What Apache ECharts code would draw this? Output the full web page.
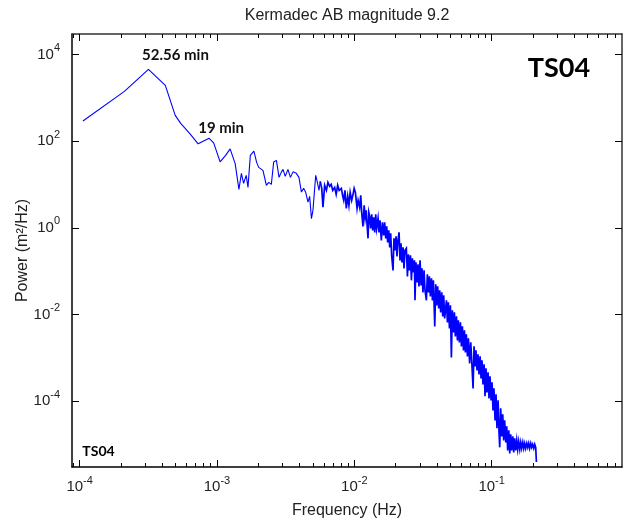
<!DOCTYPE html>
<html>
<head>
<meta charset="utf-8">
<script src="https://cdn.jsdelivr.net/npm/echarts@6/dist/echarts.min.js"></script>
<style>
  html, body { margin: 0; padding: 0; background: #fff; }
  #chart { width: 623px; height: 524px; }
</style>
</head>
<body>
<div id="chart"></div>
<script>
// ---- Chart text ----
const chartTitle = 'Kermadec AB magnitude 9.2';
const stationName = 'TS04';
const xAxisName = 'Frequency (Hz)';
const yAxisName = 'Power (m\u00B2/Hz)';

// ---- Axis ranges and tick positions (decimal exponents) ----
const freqRangeHz = [8.8e-5, 0.89];
const powerRange = [3e-6, 3e4];
const xTickExponents = [-4, -3, -2, -1];
const yTickExponents = [-4, -2, 0, 2, 4];

// ---- Periods of the annotated spectral peaks (minutes) ----
const annotatedPeriodsMin = [52.56, 19];

// ---- Power spectrum: log10 of frequency (Hz) and of power (m^2/Hz) ----
const log10FreqHz = [
  -3.976, -3.674, -3.4988, -3.376, -3.304, -3.264, -3.199, -3.137, -3.0569, -3.024,
  -2.977, -2.937, -2.904, -2.867, -2.840, -2.822, -2.806, -2.787, -2.774, -2.757,
  -2.731, -2.711, -2.696, -2.665, -2.640, -2.623, -2.604, -2.587, -2.567, -2.548,
  -2.532, -2.519, -2.503, -2.483, -2.465, -2.446, -2.422, -2.403, -2.385, -2.369,
  -2.354, -2.337, -2.325, -2.312, -2.301, -2.281, -2.272, -2.257, -2.248, -2.237,
  -2.228, -2.216, -2.203, -2.192, -2.179, -2.168, -2.157, -2.143, -2.132, -2.121,
  -2.110, -2.094, -2.084, -2.077, -2.068, -2.058, -2.048, -2.039, -2.030, -2.019,
  -2.009, -2.001, -1.992, -1.980, -1.972, -1.961, -1.953, -1.946, -1.937, -1.928,
  -1.921, -1.913, -1.906, -1.900, -1.894, -1.888, -1.881, -1.873, -1.866, -1.859,
  -1.851, -1.844, -1.837, -1.827, -1.820, -1.813, -1.803, -1.795, -1.786, -1.779,
  -1.771, -1.764, -1.757, -1.749, -1.742, -1.735, -1.728, -1.718, -1.711, -1.704,
  -1.696, -1.689, -1.682, -1.674, -1.667, -1.660, -1.653, -1.645, -1.638, -1.631,
  -1.621, -1.613, -1.606, -1.599, -1.591, -1.584, -1.577, -1.570, -1.562, -1.558,
  -1.551, -1.543, -1.536, -1.529, -1.521, -1.514, -1.507, -1.500, -1.492, -1.485,
  -1.475, -1.468, -1.460, -1.453, -1.446, -1.438, -1.431, -1.424, -1.414, -1.407,
  -1.400, -1.393, -1.385, -1.378, -1.371, -1.363, -1.356, -1.349, -1.342, -1.329,
  -1.322, -1.315, -1.307, -1.300, -1.293, -1.286, -1.278, -1.271, -1.264, -1.256,
  -1.249, -1.242, -1.235, -1.227, -1.220, -1.213, -1.205, -1.198, -1.191, -1.184,
  -1.176, -1.169, -1.160, -1.152, -1.145, -1.135, -1.128, -1.121, -1.114, -1.106,
  -1.099, -1.092, -1.084, -1.077, -1.070, -1.063, -1.055, -1.048, -1.041, -1.034,
  -1.026, -1.019, -1.012, -1.004, -0.997, -0.990, -0.983, -0.975, -0.968, -0.961,
  -0.953, -0.946, -0.941, -0.934, -0.926, -0.919, -0.912, -0.905, -0.897, -0.890,
  -0.883, -0.875, -0.868, -0.861, -0.854, -0.846, -0.839, -0.832, -0.824, -0.817,
  -0.810, -0.803, -0.795, -0.788, -0.781, -0.773, -0.766, -0.759, -0.752, -0.744,
  -0.737, -0.730, -0.723, -0.715, -0.708, -0.701, -0.693, -0.686, -0.679, -0.674
];
const log10Power = [
  2.467, 3.152, 3.661, 3.291, 2.598, 2.413, 2.182, 1.940, 2.067, 1.963,
  1.524, 1.674, 1.824, 1.478, 0.889, 1.259, 1.028, 1.212, 0.935, 1.674,
  1.774, 1.513, 1.397, 1.328, 0.982, 1.051, 1.005, 1.520, 1.559, 1.166,
  1.282, 1.351, 1.189, 1.351, 1.166, 1.293, 1.259, 1.166, 0.827, 0.912,
  0.820, 0.596, 0.727, 0.212, 0.404, 1.212, 1.097, 0.866, 1.074, 0.912,
  0.480, 0.982, 0.866, 1.051, 0.958, 1.005, 0.866, 0.935, 0.774, 0.982,
  0.866, 0.912, 0.727, 0.635, 0.866, 0.450, 0.727, 0.520, 0.820, 0.635,
  0.774, 0.912, 0.820, 0.450, 0.635, 0.473, 0.751, 0.358, 0.035, 0.520,
  0.219, 0.404, 0.035, -0.242, 0.358, 0.266, -0.012, 0.312, -0.058, 0.242,
  -0.104, 0.312, -0.012, 0.219, -0.104, 0.173, -0.289, 0.127, -0.173, 0.127,
  -0.242, 0.035, -0.335, -0.058, -0.450, -0.127, -0.635, -0.982, -0.242, -0.520,
  -0.196, -0.658, -0.289, -0.104, -0.751, -0.358, -0.797, -0.450, -0.935, -0.520,
  -0.473, -1.120, -0.612, -0.982, -0.635, -1.212, -0.704, -1.028, -0.751, -1.674,
  -0.797, -1.259, -0.843, -1.351, -0.751, -1.328, -0.935, -1.490, -0.982, -1.443,
  -1.674, -1.074, -1.490, -1.120, -1.582, -1.166, -1.674, -1.212, -2.275, -1.305,
  -1.790, -1.351, -1.859, -1.443, -1.952, -1.490, -2.044, -1.559, -2.090, -1.674,
  -2.182, -1.721, -2.321, -1.790, -2.991, -1.905, -2.413, -1.952, -2.506, -2.044,
  -2.598, -2.136, -2.644, -2.182, -2.737, -2.275, -2.829, -2.367, -2.875, -2.460,
  -2.968, -2.552, -3.129, -2.644, -3.060, -3.707, -2.737, -3.199, -2.829, -3.291,
  -2.921, -3.383, -2.968, -3.476, -3.060, -3.614, -3.152, -3.891, -3.245, -3.799,
  -3.337, -3.938, -3.430, -3.984, -3.568, -4.215, -3.707, -4.446, -3.845, -4.630,
  -3.984, -4.723, -5.069, -4.169, -4.815, -4.307, -4.908, -4.446, -4.954, -4.584,
  -5.139, -4.677, -5.208, -4.769, -5.139, -4.815, -5.185, -4.861, -5.139, -4.908,
  -5.115, -4.931, -5.115, -4.954, -5.092, -4.954, -5.092, -4.977, -5.092, -4.977,
  -5.069, -4.977, -5.092, -4.977, -5.069, -5.000, -5.092, -5.000, -5.069, -5.409
];

// ---- Build the series ----
const spectrum = log10FreqHz.map((f, i) => [Math.pow(10, f), Math.pow(10, log10Power[i])]);

// above ~5.6 mHz the spectrum is densely sampled and drawn with a heavier stroke
const denseStartIndex = log10FreqHz.findIndex(f => f >= -2.25);
const spectrumLow = spectrum.slice(0, denseStartIndex + 1);
const spectrumDense = spectrum.slice(denseStartIndex);

const xLogMin = Math.log10(freqRangeHz[0]);
const xLogMax = Math.log10(freqRangeHz[1]);
const yLogMin = Math.log10(powerRange[0]);
const yLogMax = Math.log10(powerRange[1]);

// minor ticks at 2..9 x 10^n inside the frequency range
function minorExponents(lo, hi) {
  const out = [];
  for (let d = Math.floor(lo); d < hi; d++) {
    for (let m = 2; m <= 9; m++) {
      const e = d + Math.log10(m);
      if (e > lo && e < hi) out.push(e);
    }
  }
  return out;
}
const xMinorTickExponents = minorExponents(xLogMin, xLogMax);

// spectral peaks labelled with their period
const labelOffsets = { '52.56': [27, -14], '19': [12, -10] };
const peakMarks = annotatedPeriodsMin.map(p => {
  const target = Math.log10(1 / (p * 60));
  let best = 0;
  log10FreqHz.forEach((f, i) => {
    if (Math.abs(f - target) < Math.abs(log10FreqHz[best] - target)) best = i;
  });
  return {
    coord: spectrum[best],
    value: p,
    label: { offset: labelOffsets[String(p)] || [0, -12] }
  };
});

const textColor = '#222';
const axisColor = '#000';
const lineBlue = '#0000ff';
const labelFont = 'Liberation Sans, Arial, sans-serif';
const labelRich = {
  b: { fontFamily: labelFont, fontSize: 15, color: textColor, lineHeight: 24 },
  s: { fontFamily: labelFont, fontSize: 11, color: textColor, lineHeight: 10, verticalAlign: 'top' }
};
const tenTo = v => '{b|10}{s|' + Math.round(v) + '}';

function decoX(position, ticks, len, extra) {
  return Object.assign({
    type: 'value', gridIndex: 0, position: position,
    min: xLogMin, max: xLogMax,
    axisLine: { show: false, onZero: false },
    axisTick: { show: true, inside: true, length: len, customValues: ticks,
                lineStyle: { color: axisColor, width: 1 } },
    axisLabel: { show: false },
    splitLine: { show: false }
  }, extra || {});
}
function decoY(position, ticks, len, extra) {
  return Object.assign({
    type: 'value', gridIndex: 0, position: position,
    min: yLogMin, max: yLogMax,
    axisLine: { show: false, onZero: false },
    axisTick: { show: true, inside: true, length: len, customValues: ticks,
                lineStyle: { color: axisColor, width: 1 } },
    axisLabel: { show: false },
    splitLine: { show: false }
  }, extra || {});
}

const chart = echarts.init(document.getElementById('chart'));
chart.setOption({
  animation: false,
  backgroundColor: '#fff',
  grid: { left: 72, right: 1, top: 34, bottom: 57, containLabel: false },
  xAxis: [
    {
      type: 'log', logBase: 10, position: 'bottom',
      min: freqRangeHz[0], max: freqRangeHz[1],
      axisLine: { show: true, onZero: false, lineStyle: { color: axisColor, width: 1.5 } },
      axisTick: { show: false }, axisLabel: { show: false }, splitLine: { show: false }
    },
    decoX('bottom', xTickExponents, 7, {
      axisLabel: { show: true, customValues: xTickExponents, formatter: tenTo, rich: labelRich, margin: 8 },
      name: xAxisName, nameLocation: 'middle', nameGap: 36, nameMoveOverlap: false,
      nameTextStyle: { fontFamily: labelFont, fontSize: 16, color: textColor }
    }),
    decoX('bottom', xMinorTickExponents, 4),
    decoX('top', xTickExponents, 7, {
      axisLine: { show: true, onZero: false, lineStyle: { color: '#333', width: 1.5 } }
    }),
    decoX('top', xMinorTickExponents, 4)
  ],
  yAxis: [
    {
      type: 'log', logBase: 10, position: 'left',
      min: powerRange[0], max: powerRange[1],
      axisLine: { show: true, onZero: false, lineStyle: { color: axisColor, width: 1.5 } },
      axisTick: { show: false }, axisLabel: { show: false }, splitLine: { show: false }
    },
    decoY('left', yTickExponents, 7, {
      axisLabel: { show: true, customValues: yTickExponents, formatter: tenTo, rich: labelRich, margin: 12 },
      name: yAxisName, nameLocation: 'middle', nameGap: 41, nameMoveOverlap: false,
      nameTextStyle: { fontFamily: labelFont, fontSize: 16, color: textColor }
    }),
    decoY('right', yTickExponents, 7, {
      axisLine: { show: true, onZero: false, lineStyle: { color: '#333', width: 1.5 } }
    })
  ],
  series: [
    {
      type: 'line',
      xAxisIndex: 0, yAxisIndex: 0,
      data: spectrumLow,
      showSymbol: false, symbol: 'none',
      lineStyle: { color: lineBlue, width: 1.1 },
      itemStyle: { color: lineBlue },
      silent: true,
      markPoint: {
        symbol: 'circle', symbolSize: 1,
        itemStyle: { color: 'rgba(0,0,0,0)' },
        label: {
          show: true, position: 'inside',
          formatter: prm => prm.value + ' min',
          fontFamily: 'Lato, sans-serif', fontWeight: 'bold', fontSize: 15, color: '#111'
        },
        data: peakMarks
      }
    },
    {
      type: 'line',
      xAxisIndex: 0, yAxisIndex: 0,
      data: spectrumDense,
      showSymbol: false, symbol: 'none',
      lineStyle: { color: lineBlue, width: 1.7, join: 'miter' },
      itemStyle: { color: lineBlue },
      silent: true
    }
  ],
  graphic: [
    {
      type: 'text', x: 347, y: 16,
      style: { text: chartTitle, align: 'center', verticalAlign: 'middle',
               textAlign: 'center', textVerticalAlign: 'middle',
               font: '16px "Liberation Sans", Arial, sans-serif', fill: textColor }
    },
    {
      type: 'text', x: 559, y: 68,
      style: { text: stationName, align: 'center', verticalAlign: 'middle',
               textAlign: 'center', textVerticalAlign: 'middle',
               font: 'bold 27px Lato, sans-serif', fill: '#000' }
    },
    {
      type: 'text', x: 98.5, y: 451,
      style: { text: stationName, align: 'center', verticalAlign: 'middle',
               textAlign: 'center', textVerticalAlign: 'middle',
               font: 'bold 14px Lato, sans-serif', fill: '#000' }
    }
  ]
});
</script>
</body>
</html>
